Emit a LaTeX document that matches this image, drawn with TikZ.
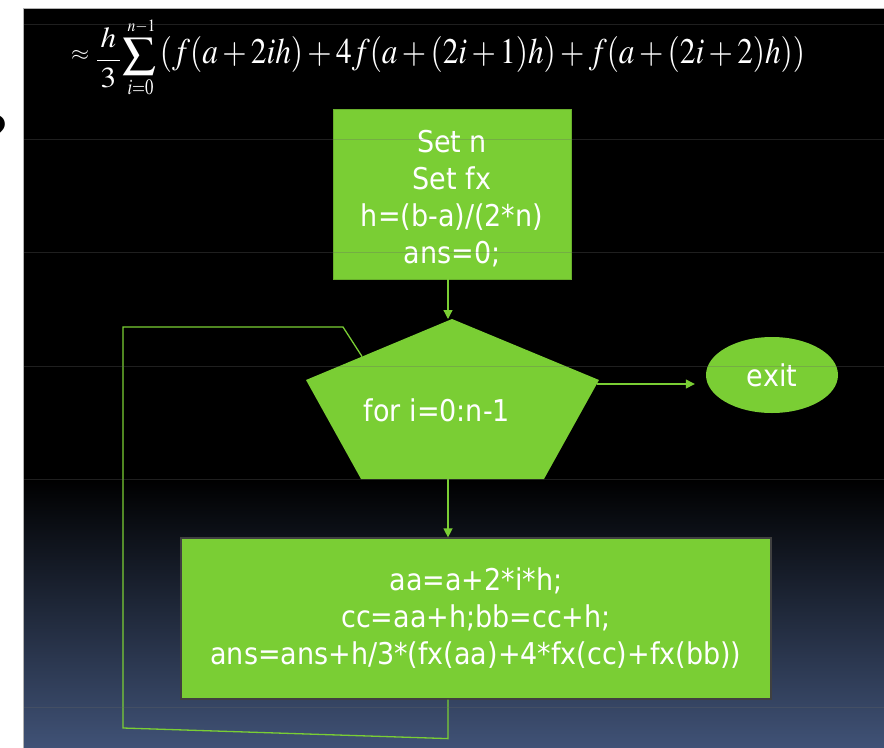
\documentclass[tikz,border=0pt]{standalone}
\usepackage{amsmath}
\usepackage{mathptmx}
\usepackage{graphicx}
\usepackage[no-math]{fontspec}
\setmainfont{DejaVu Sans Condensed}
\newfontfamily\markfont{DejaVu Sans}
\usetikzlibrary{arrows.meta,calc,shapes.geometric}

\definecolor{boxgreen}{RGB}{122,206,52}
\definecolor{slatebottom}{RGB}{64,82,118}
\definecolor{guidegray}{RGB}{103,103,103}

\tikzset{
  boxtext/.style={text=white, font=\fontsize{30bp}{37bp}\selectfont, align=center},
  procbox/.style={boxtext, fill=boxgreen, inner sep=0pt},
  flow/.style={draw=boxgreen, line width=1.3bp},
  tip/.style={-{Triangle[width=9bp,length=9bp]}},
  guide/.style={draw=guidegray, opacity=0.3, line width=1bp},
  formula/.style={text=white, inner sep=0pt}
}

\begin{document}
\begin{tikzpicture}[x=1bp,y=-1bp]
\useasboundingbox (0,0) rectangle (884,748);

% page and slide background
\fill[white] (0,0) rectangle (884,748);
\fill[black] (23,9) rectangle (884,480);
\shade[top color=black, bottom color=slatebottom] (23,479) rectangle (884,748);
\draw[gray!60, line width=1bp] (23,748) -- (23,9) -- (884,9);

% glyph cut by the left edge of the page
\node[anchor=east, inner sep=0pt, font=\markfont\fontsize{56bp}{56bp}\selectfont] (qmark) at (9,136) {?};

% Simpson's rule formula, set piece by piece
\node[formula] (fapprox) at (80,55)    {\resizebox*{18bp}{10bp}{$\approx$}};
\node[formula] (ffrac)   at (108.5,58) {\resizebox*{30bp}{60bp}{$\dfrac{\,h\,}{\,3\,}$}};
\node[formula] (fsigma)  at (140,56.5) {\resizebox*{34bp}{37bp}{$\sum$}};
\node[formula] (fupper)  at (141.5,26.5) {\resizebox*{28bp}{13bp}{$\scriptstyle n-1$}};
\node[formula] (flower)  at (140.5,87.5) {\resizebox*{26bp}{15bp}{$\scriptstyle i=0$}};
\node[formula] (fbody)   at (482.5,55) {\resizebox*{645bp}{36bp}{$(f(a+2ih)+4f(a+(2i+1)h)+f(a+(2i+2)h))$}};

% pentagon corners
\coordinate (pt)  at (452,319);
\coordinate (pul) at (306,380);
\coordinate (pur) at (599,380);
\coordinate (pbr) at (544,479);
\coordinate (pbl) at (361,479);
\coordinate (spine) at (448,0);
\coordinate (loopin) at ($(pt)!0.616!(pul)$);

% process boxes
\node[procbox, draw=boxgreen!85!black, line width=0.8bp,
      minimum width=238bp, minimum height=170bp] (init) at (452,194)
  {\raisebox{-7bp}[\height][\depth]{\begin{tabular}{@{}c@{}}Set n\\Set fx\\h=(b-a)/(2*n)\\ans=0;\end{tabular}}};
\node[procbox, draw=black!75, line width=1.2bp,
      minimum width=590bp, minimum height=161bp] (body) at (476,618.5)
  {aa=a+2*i*h;\\cc=aa+h;bb=cc+h;\\ans=ans+h/3*(fx(aa)+4*fx(cc)+fx(bb))};

% loop back line, running under the pentagon
\coordinate (lbr) at ($(body.south -| spine)+(0,39)$);
\coordinate (lbl) at (123,728);
\coordinate (ltl) at (123,327);
\coordinate (ltr) at (343,327);
\draw[flow] (body.south -| spine) -- (lbr) -- (lbl) -- (ltl) -- (ltr) -- (loopin);

% loop test
\fill[boxgreen] (pt) -- (pur) -- (pbr) -- (pbl) -- (pul) -- cycle;
\node[boxtext, inner sep=0pt] (test) at (437,410) {for i=0:n-1};

% exit
\node[ellipse, fill=boxgreen, boxtext, minimum width=132bp, minimum height=76bp, inner sep=0pt] (exit) at (772,375) {exit};

% connectors
\coordinate (exitgap) at ($(exit.west)+(-11,9)$);
\draw[flow, tip] (init.south -| spine) -- (pt -| spine);
\draw[flow, tip] (pbl -| spine) -- (body.north -| spine);
\draw[flow, tip] ($(pur |- exitgap)+(-2,0)$) -- (exitgap);

% faint guide lines across the slide
\foreach \gy in {25,139,252,366,479,707}
  \draw[guide] (24,\gy) -- (884,\gy);
\end{tikzpicture}
\end{document}
